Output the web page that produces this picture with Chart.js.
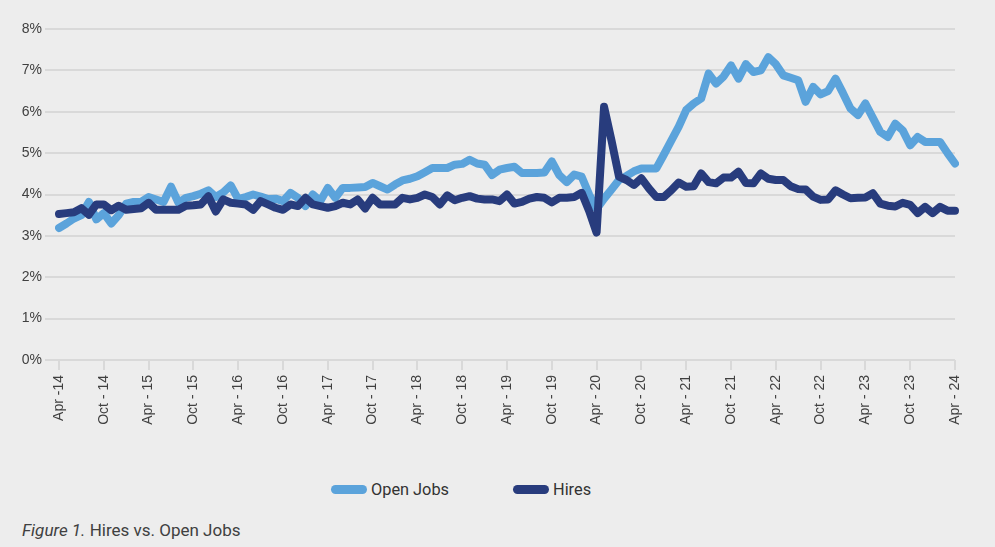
<!DOCTYPE html>
<html>
<head>
<meta charset="utf-8">
<script src="https://cdn.jsdelivr.net/npm/chart.js@4"></script>
<style>
    html, body { margin: 0; padding: 0; background: #EDEDED; }
    body { width: 995px; height: 547px; position: relative; overflow: hidden; font-family: Roboto, sans-serif; }
    #wrap { position: absolute; left: 0; top: 0; width: 995px; height: 450px; }
    .legend { position: absolute; top: 479px; left: 0; height: 20px; }
    .legend-item { position: absolute; top: 0; display: flex; align-items: center; white-space: nowrap; }
    .legend-item .swatch { width: 36px; height: 9px; border-radius: 5px; margin-right: 4px; }
    .legend-item .text { font-size: 17px; color: #333; transform: scaleX(0.96); transform-origin: left center; }
    .caption { position: absolute; left: 22px; top: 520px; font-size: 17px; color: #404040; white-space: nowrap; }
</style>
</head>
<body>
<div id="wrap"><canvas id="jobsChart"></canvas></div>
<div class="legend" id="legend"></div>
<div class="caption"><i>Figure 1.</i> Hires vs. Open Jobs</div>

<script>
// monthly, Apr 2014 .. Apr 2024
const monthNames = ['Apr', 'May', 'Jun', 'Jul', 'Aug', 'Sep', 'Oct', 'Nov', 'Dec', 'Jan', 'Feb', 'Mar'];
const tickLabels = ['Apr -14', 'Oct - 14', 'Apr - 15', 'Oct - 15', 'Apr - 16', 'Oct - 16', 'Apr - 17',
    'Oct - 17', 'Apr - 18', 'Oct - 18', 'Apr - 19', 'Oct - 19', 'Apr - 20', 'Oct - 20', 'Apr - 21',
    'Oct - 21', 'Apr - 22', 'Oct - 22', 'Apr - 23', 'Oct - 23', 'Apr - 24'];

// percent
const openJobs = [
    3.19, 3.3, 3.42, 3.5, 3.82, 3.4, 3.55, 3.3, 3.5, 3.78, 3.82, 3.82,
    3.94, 3.88, 3.82, 4.19, 3.8, 3.92, 3.96, 4.02, 4.1, 3.94, 4.05, 4.22,
    3.89, 3.94, 4.0, 3.95, 3.89, 3.9, 3.84, 4.04, 3.92, 3.72, 4.0, 3.84,
    4.16, 3.92, 4.16, 4.16, 4.17, 4.18, 4.28, 4.2, 4.12, 4.24, 4.34, 4.38,
    4.44, 4.54, 4.64, 4.64, 4.64, 4.72, 4.74, 4.84, 4.75, 4.72, 4.47, 4.6,
    4.64, 4.67, 4.52, 4.52, 4.52, 4.53, 4.8, 4.47, 4.3, 4.48, 4.43, 4.0,
    3.65, 3.9, 4.12, 4.35, 4.45, 4.56, 4.63, 4.63, 4.63, 4.96, 5.3, 5.64,
    6.04, 6.2, 6.32, 6.92, 6.68, 6.85, 7.12, 6.8, 7.15, 6.96, 7.0, 7.32,
    7.15, 6.88, 6.82, 6.76, 6.24, 6.6, 6.42, 6.5, 6.8, 6.45, 6.08, 5.92,
    6.2, 5.85, 5.51, 5.39, 5.71, 5.55, 5.19, 5.39, 5.27, 5.27, 5.27, 5.0,
    4.75
];
const hires = [
    3.53, 3.55, 3.57, 3.67, 3.51, 3.76, 3.76, 3.62, 3.73, 3.63, 3.65, 3.67,
    3.8, 3.63, 3.63, 3.63, 3.63, 3.73, 3.74, 3.76, 3.96, 3.59, 3.88, 3.8,
    3.78, 3.76, 3.63, 3.84, 3.76, 3.68, 3.63, 3.76, 3.72, 3.92, 3.76, 3.72,
    3.68, 3.72, 3.8, 3.76, 3.88, 3.66, 3.92, 3.76, 3.76, 3.76, 3.92, 3.88,
    3.92, 4.0, 3.94, 3.76, 3.98, 3.86, 3.92, 3.96, 3.9, 3.88, 3.88, 3.84,
    4.0, 3.78, 3.82, 3.9, 3.94, 3.92, 3.81, 3.92, 3.92, 3.94, 4.04, 3.6,
    3.08, 6.12, 5.3, 4.43, 4.35, 4.23, 4.39, 4.15, 3.94, 3.94, 4.1, 4.29,
    4.19, 4.2, 4.51, 4.3, 4.27, 4.41, 4.41, 4.55, 4.28, 4.27, 4.51, 4.38,
    4.35, 4.35, 4.2, 4.13, 4.12, 3.95, 3.87, 3.88, 4.1, 4.0, 3.91, 3.92,
    3.93, 4.03, 3.78, 3.73, 3.71, 3.8, 3.75, 3.55, 3.7, 3.55, 3.7, 3.61,
    3.61
];

const yTicks = [0, 1, 2, 3, 4, 5, 6, 7, 8];

const colors = {
    openJobs: '#5BA3DB',
    hires: '#283C7D',
    grid: '#D9D9D9',
    text: '#404040'
};

// category labels, one per month
const labels = openJobs.map((v, i) => {
    const yr = 14 + Math.floor((i + 3) / 12);
    return monthNames[i % 12] + ' - ' + yr;
});

const ctx = document.getElementById('jobsChart').getContext('2d');
const chart = new Chart(ctx, {
    type: 'line',
    data: {
        labels: labels,
        datasets: [
            {
                label: 'Open Jobs',
                data: openJobs,
                borderColor: colors.openJobs,
                backgroundColor: colors.openJobs,
                order: 1
            },
            {
                label: 'Hires',
                data: hires,
                borderColor: colors.hires,
                backgroundColor: colors.hires,
                order: 0
            }
        ]
    },
    options: {
        responsive: true,
        maintainAspectRatio: false,
        animation: false,
        layout: {
            padding: { top: 29, right: 40, bottom: 0, left: 0 }
        },
        elements: {
            line: {
                borderWidth: 8,
                tension: 0,
                borderCapStyle: 'round',
                borderJoinStyle: 'round'
            },
            point: { radius: 0 }
        },
        plugins: {
            legend: { display: false },
            tooltip: { enabled: false }
        },
        scales: {
            x: {
                offset: false,
                border: { display: false },
                grid: {
                    drawOnChartArea: false,
                    drawTicks: true,
                    tickLength: 10,
                    lineWidth: 2,
                    color: c => (c.index % 6 === 0 ? colors.grid : 'rgba(0,0,0,0)')
                },
                ticks: {
                    autoSkip: false,
                    maxRotation: 90,
                    minRotation: 90,
                    padding: 5,
                    color: colors.text,
                    font: { family: 'Liberation Sans, Arial, sans-serif', size: 14 },
                    callback: (v, i) => (i % 6 === 0 ? tickLabels[i / 6] : '')
                },
                afterFit: s => { s.height = 90; }
            },
            y: {
                min: 0,
                max: 8,
                border: { display: false },
                afterBuildTicks: s => { s.ticks = yTicks.map(v => ({ value: v })); },
                grid: {
                    color: colors.grid,
                    lineWidth: 2,
                    drawTicks: true,
                    tickLength: 14
                },
                ticks: {
                    padding: 3,
                    color: colors.text,
                    font: { family: 'Liberation Sans, Arial, sans-serif', size: 14 },
                    callback: v => v + '%'
                },
                afterFit: s => { s.width = 59; }
            }
        }
    }
});

// html legend from the datasets
const legendEl = document.getElementById('legend');
const legendX = [331, 513];
chart.data.datasets.forEach((ds, i) => {
    const item = document.createElement('div');
    item.className = 'legend-item';
    item.style.left = legendX[i] + 'px';
    item.innerHTML = '<span class="swatch" style="background:' + ds.borderColor + '"></span>' +
        '<span class="text">' + ds.label + '</span>';
    legendEl.appendChild(item);
});
</script>
</body>
</html>
